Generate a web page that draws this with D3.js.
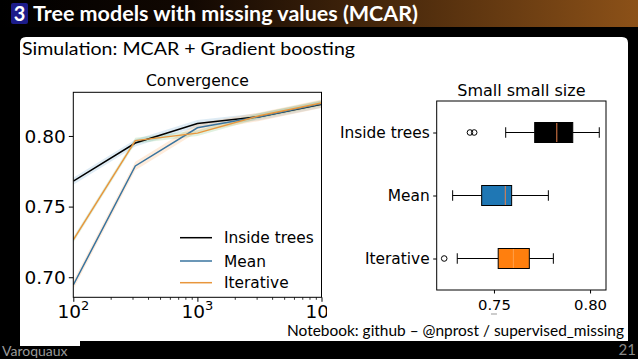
<!DOCTYPE html>
<html><head><meta charset="utf-8">
<script src="https://cdn.jsdelivr.net/npm/d3@7"></script>
<style>html,body{margin:0;padding:0;background:#000;}svg{display:block;}</style>
</head><body>
<svg id="c" width="638" height="359"></svg>
<script>
// ---- data ----
const sizes = [100, 316, 1000, 3162, 10000];
const insideTrees = [0.768, 0.795, 0.8088, 0.8136, 0.8225];
const meanImp = [0.6945, 0.7788, 0.8058, 0.8136, 0.8228];
const iterative = [0.7264, 0.7967, 0.802, 0.8143, 0.8233];
const bandHalf = [0.0025, 0.003, 0.002];
const convYTicks = [0.70, 0.75, 0.80];
const convXTicks = [100, 1000, 10000];
const convXLabels = ["2", "3", "4"];

const boxCats = ["Inside trees", "Mean", "Iterative"];
const whiskLo = [0.7561, 0.7285, 0.7309];
const q1 = [0.7712, 0.7436, 0.7522];
const med = [0.7827, 0.7559, 0.7601];
const q3 = [0.7910, 0.7592, 0.7684];
const whiskHi = [0.8048, 0.7783, 0.7809];
const outliers = [[0.7375, 0.7397], [], [0.7241]];
const boxXTicks = [0.75, 0.80];

const svg = d3.select("#c");
const F = "DejaVu Sans";
const SL = "Lato";

// ---- slide chrome ----
const defs = svg.append("defs");
const g = defs.append("linearGradient").attr("id", "tb");
g.append("stop").attr("offset", "0%").attr("stop-color", "#000");
g.append("stop").attr("offset", "30%").attr("stop-color", "#120802");
g.append("stop").attr("offset", "100%").attr("stop-color", "#8c5118");
svg.append("rect").attr("x", 0).attr("y", 0).attr("width", 638).attr("height", 359).attr("fill", "#000");
svg.append("rect").attr("x", 0).attr("y", 0).attr("width", 638).attr("height", 27).attr("fill", "url(#tb)");
svg.append("rect").attr("x", 11).attr("y", 3).attr("width", 17).attr("height", 21).attr("rx", 2).attr("fill", "#1c1c8a");
svg.append("text").attr("x", 19.5).attr("y", 21).attr("text-anchor", "middle").attr("fill", "#fff")
  .attr("font-family", SL).attr("font-weight", "bold").attr("font-size", 20).text("3");
svg.append("text").attr("x", 33).attr("y", 21).attr("fill", "#fff")
  .attr("font-family", SL).attr("font-weight", "bold").attr("font-size", 20)
  .attr("textLength", 385).attr("lengthAdjust", "spacingAndGlyphs")
  .text("Tree models with missing values (MCAR)");

svg.append("path").attr("fill", "#fff")
  .attr("d", "M26,37 H622 Q628,37 628,43 V341 H20 V43 Q20,37 26,37 Z");
svg.append("rect").attr("x", 20).attr("y", 330).attr("width", 60).attr("height", 16).attr("fill", "#fff");

svg.append("text").attr("x", 22).attr("y", 55).attr("fill", "#000")
  .attr("font-family", SL).attr("font-size", 18)
  .attr("textLength", 333).attr("lengthAdjust", "spacingAndGlyphs")
  .text("Simulation: MCAR + Gradient boosting");
svg.append("text").attr("x", 287).attr("y", 336).attr("fill", "#000")
  .attr("font-family", SL).attr("font-size", 16)
  .attr("textLength", 337).attr("lengthAdjust", "spacingAndGlyphs")
  .text("Notebook: github – @nprost / supervised_missing");
svg.append("text").attr("x", 2).attr("y", 356).attr("fill", "#9a9a9a")
  .attr("font-family", SL).attr("font-size", 14).text("Varoquaux");
svg.append("text").attr("x", 636).attr("y", 355).attr("text-anchor", "end").attr("fill", "#8a8a8a")
  .attr("font-family", SL).attr("font-size", 15).text("21");

// ---- left chart: Convergence ----
const L = {x0: 73.3, x1: 321.5, y0: 92.3, y1: 297.3};
const xs = d3.scaleLog().domain([100, 10000]).range([L.x0, L.x1]);
const ys = d3.scaleLinear().domain([0.6858, 0.8309]).range([L.y1, L.y0]);
defs.append("clipPath").attr("id", "lc").append("rect")
  .attr("x", L.x0).attr("y", L.y0).attr("width", L.x1 - L.x0).attr("height", L.y1 - L.y0);
const lg = svg.append("g").attr("clip-path", "url(#lc)");
const series = [
  {name: "Inside trees", vals: insideTrees, color: "#000000", band: "#1f77b4"},
  {name: "Mean", vals: meanImp, color: "#3a749f", band: "#ff7f0e"},
  {name: "Iterative", vals: iterative, color: "#e8963c", band: "#2ca02c"}
];
const area = d3.area().x((d, i) => xs(sizes[i]));
series.forEach((s, k) => {
  lg.append("path").datum(s.vals).attr("fill", s.band).attr("fill-opacity", 0.15)
    .attr("d", area.y0(d => ys(d - bandHalf[k])).y1(d => ys(d + bandHalf[k])));
});
const line = d3.line().x((d, i) => xs(sizes[i])).y(d => ys(d));
series.forEach(s => {
  lg.append("path").datum(s.vals).attr("fill", "none").attr("stroke", s.color)
    .attr("stroke-width", 1.5).attr("d", line);
});
// axes
const minor = [];
for (let e = 2; e < 4; e++) for (let m = 2; m < 10; m++) minor.push(m * Math.pow(10, e));
svg.append("g").attr("transform", `translate(0,${L.y1})`)
  .call(d3.axisBottom(xs).tickValues(minor).tickSize(2.5).tickFormat(""))
  .call(a => a.select(".domain").remove()).selectAll("line").attr("stroke-width", 0.8);
svg.append("g").attr("transform", `translate(0,${L.y1})`)
  .call(d3.axisBottom(xs).tickValues(convXTicks).tickSize(4.5).tickFormat(""))
  .call(a => a.select(".domain").remove()).selectAll("line").attr("stroke-width", 1);
svg.append("g").attr("transform", `translate(${L.x0},0)`)
  .call(d3.axisLeft(ys).tickValues(convYTicks).tickSize(4.5).tickFormat(d3.format(".2f")))
  .call(a => a.select(".domain").remove())
  .call(a => a.selectAll("text").attr("font-family", F).attr("font-size", 18.5).attr("fill", "#000").attr("dy", "0.34em"))
  .call(a => a.selectAll("line").attr("stroke-width", 1));
defs.append("clipPath").attr("id", "xl").append("rect").attr("x", 0).attr("y", 280).attr("width", 327).attr("height", 60);
const xl = svg.append("g").attr("clip-path", "url(#xl)");
convXTicks.forEach((t, i) => {
  const tx = xl.append("text").attr("x", xs(t)).attr("y", 318).attr("text-anchor", "middle")
    .attr("font-family", F).attr("font-size", 18.5).attr("fill", "#000");
  tx.append("tspan").text("10");
  tx.append("tspan").attr("font-size", 13).attr("dy", -8).text(convXLabels[i]);
});
svg.append("rect").attr("x", L.x0).attr("y", L.y0).attr("width", L.x1 - L.x0).attr("height", L.y1 - L.y0)
  .attr("fill", "none").attr("stroke", "#000").attr("stroke-width", 1);
svg.append("text").attr("x", (L.x0 + L.x1) / 2).attr("y", 86).attr("text-anchor", "middle")
  .attr("font-family", F).attr("font-size", 15.6).attr("fill", "#000").text("Convergence");
// legend
const legY = [237.7, 261, 282.7];
series.forEach((s, i) => {
  svg.append("line").attr("x1", 180).attr("x2", 212).attr("y1", legY[i]).attr("y2", legY[i])
    .attr("stroke", s.color).attr("stroke-width", 1.5);
  svg.append("text").attr("x", 224).attr("y", legY[i]).attr("dy", "0.36em")
    .attr("font-family", F).attr("font-size", 15.4).attr("fill", "#000").text(s.name);
});

// ---- right chart: boxplot ----
const R = {x0: 436.7, x1: 606, y0: 101, y1: 290};
const bx = d3.scaleLinear().domain([0.7202, 0.8083]).range([R.x0, R.x1]);
const by = d3.scalePoint().domain(boxCats).range([R.y0, R.y1]).padding(0.5);
const fills = ["#000000", "#1f77b4", "#ff7f0e"];
const bh = 20, ch = 10.5;
boxCats.forEach((c, i) => {
  const cy = by(c);
  const gg = svg.append("g");
  gg.append("line").attr("x1", bx(whiskLo[i])).attr("x2", bx(q1[i])).attr("y1", cy).attr("y2", cy).attr("stroke", "#000");
  gg.append("line").attr("x1", bx(q3[i])).attr("x2", bx(whiskHi[i])).attr("y1", cy).attr("y2", cy).attr("stroke", "#000");
  [whiskLo[i], whiskHi[i]].forEach(v => gg.append("line").attr("x1", bx(v)).attr("x2", bx(v))
    .attr("y1", cy - ch / 2).attr("y2", cy + ch / 2).attr("stroke", "#000"));
  gg.append("rect").attr("x", bx(q1[i])).attr("y", cy - bh / 2).attr("width", bx(q3[i]) - bx(q1[i])).attr("height", bh)
    .attr("fill", fills[i]).attr("stroke", "#000").attr("stroke-width", 1);
  gg.append("line").attr("x1", bx(med[i])).attr("x2", bx(med[i])).attr("y1", cy - bh / 2 + 0.5).attr("y2", cy + bh / 2 - 0.5)
    .attr("stroke", i === 2 ? "#ffa04a" : "#e8804a").attr("stroke-width", 1);
  outliers[i].forEach(v => gg.append("circle").attr("cx", bx(v)).attr("cy", cy).attr("r", 2.8)
    .attr("fill", "none").attr("stroke", "#000").attr("stroke-width", 1));
});
svg.append("g").attr("transform", `translate(0,${R.y1})`)
  .call(d3.axisBottom(bx).tickValues(boxXTicks).tickSize(3.5).tickFormat(d3.format(".2f")))
  .call(a => a.select(".domain").remove())
  .call(a => a.selectAll("text").attr("font-family", F).attr("font-size", 14.8).attr("fill", "#000").attr("dy", "0.9em"));
svg.append("g").attr("transform", `translate(${R.x0},0)`)
  .call(d3.axisLeft(by).tickSize(3.5).tickPadding(3.5))
  .call(a => a.select(".domain").remove())
  .call(a => a.selectAll("text").attr("font-family", F).attr("font-size", 15.4).attr("fill", "#000"));
svg.append("rect").attr("x", R.x0).attr("y", R.y0).attr("width", R.x1 - R.x0).attr("height", R.y1 - R.y0)
  .attr("fill", "none").attr("stroke", "#000").attr("stroke-width", 1);
svg.append("text").attr("x", (R.x0 + R.x1) / 2).attr("y", 96).attr("text-anchor", "middle")
  .attr("font-family", F).attr("font-size", 16).attr("fill", "#000").text("Small small size");
svg.append("line").attr("x1", bx(0.75) - 3).attr("x2", bx(0.75) + 3).attr("y1", 314).attr("y2", 314)
  .attr("stroke", "#999").attr("stroke-width", 1);
</script>
</body></html>
